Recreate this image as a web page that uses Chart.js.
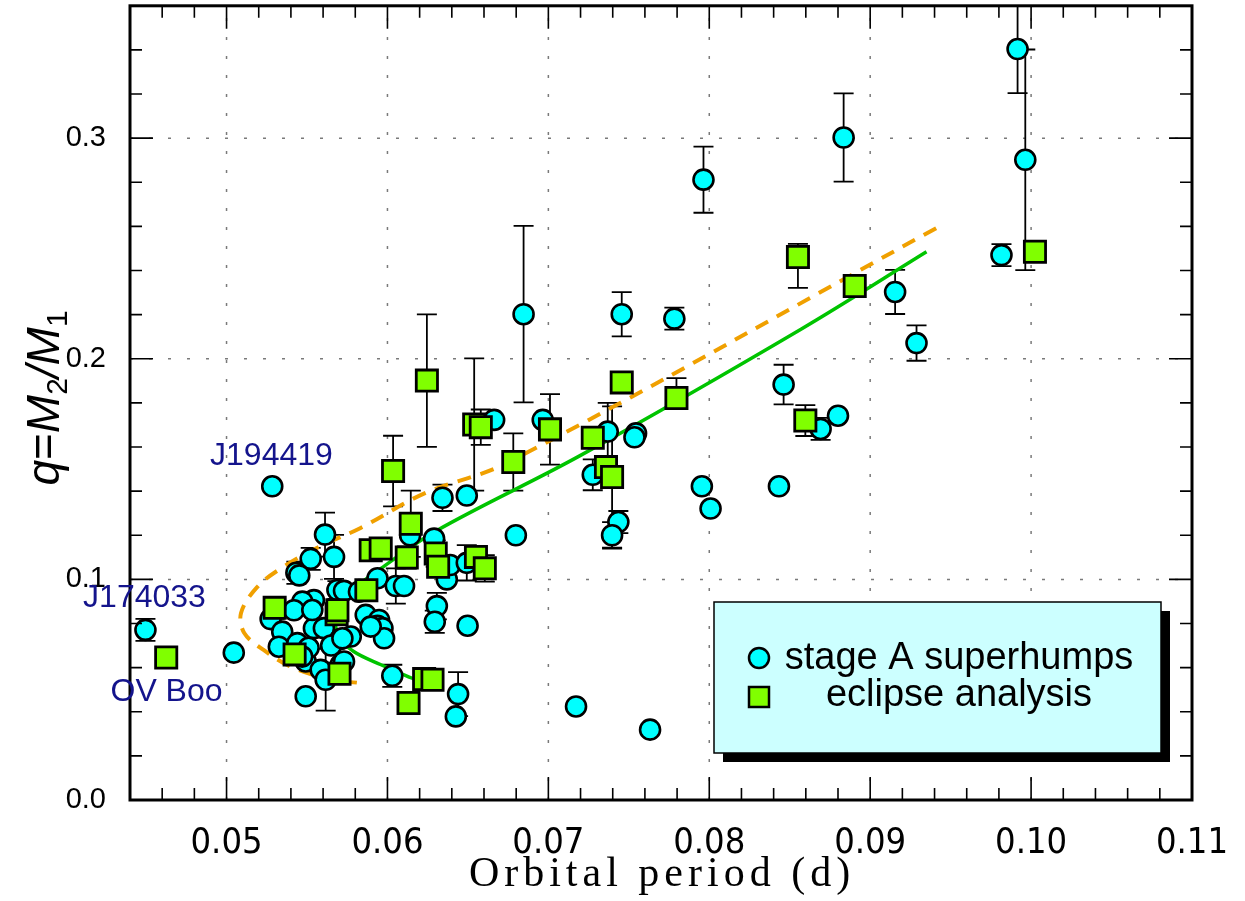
<!DOCTYPE html>
<html>
<head>
<meta charset="utf-8">
<script src="https://cdn.jsdelivr.net/npm/chart.js@4.4.1/dist/chart.umd.min.js"></script>
<style>
  html, body { margin: 0; padding: 0; background: #fff; overflow: hidden; }
  /* el area de la grafica queda 12px mas abajo de lo pedido, se compensa aqui */
  #marco { width: 1245px; height: 913px; position: relative; margin-top: -12px; }
</style>
</head>
<body>
<div id="marco"><canvas id="grafica"></canvas></div>
<script>
/* ==================
    DATOS
================== */

// stage A superhumps: periodo orbital (d), q y error (numero o [abajo, arriba])
const stageAPeriod = [
  0.04496, 0.05284, 0.05045, 0.05612, 0.05668, 0.05523, 0.05434, 0.05452, 0.05543, 0.05471,
  0.05689, 0.05730, 0.05419, 0.05274, 0.05346, 0.05543, 0.05605, 0.05709, 0.05325, 0.05440,
  0.05492, 0.05510, 0.05585, 0.05616, 0.05709, 0.05730, 0.05492, 0.05823, 0.05865, 0.05948,
  0.05938, 0.05969, 0.05979, 0.05896, 0.05938, 0.06052, 0.06103, 0.06030, 0.06141, 0.06290,
  0.06342, 0.06493, 0.06369, 0.06390, 0.06493, 0.06307, 0.06294, 0.06498, 0.06439, 0.06425,
  0.06798, 0.06663, 0.06965, 0.06846, 0.07456, 0.07783, 0.07369, 0.07545, 0.07535, 0.07276,
  0.07435, 0.07396, 0.07954, 0.08008, 0.08433, 0.08462, 0.08692, 0.08800, 0.07964, 0.08835,
  0.09155, 0.09288, 0.09916, 0.09964, 0.09816, 0.07172, 0.07632, 0.05470, 0.05650, 0.05772,
  0.05720, 0.05533
];
const stageAQ = [
  0.0771, 0.1422, 0.0668, 0.1203, 0.1102, 0.1093, 0.1030, 0.1018, 0.0906, 0.0899,
  0.0952, 0.0948, 0.0860, 0.0820, 0.0763, 0.0779, 0.0779, 0.0730, 0.0695, 0.0711,
  0.0628, 0.0690, 0.0590, 0.0545, 0.0613, 0.0628, 0.0470, 0.0944, 0.0839, 0.0816,
  0.0790, 0.0779, 0.0733, 0.0786, 0.1005, 0.0970, 0.0970, 0.0563, 0.1200, 0.1185,
  0.1370, 0.1380, 0.1000, 0.1065, 0.1075, 0.0879, 0.0808, 0.0790, 0.0480, 0.0379,
  0.1200, 0.1723, 0.1723, 0.2202, 0.2202, 0.2182, 0.1670, 0.1662, 0.1644, 0.1474,
  0.1260, 0.1200, 0.1422, 0.1321, 0.1422, 0.1883, 0.1682, 0.1742, 0.2812, 0.3003,
  0.2303, 0.2071, 0.3404, 0.2902, 0.2470, 0.0424, 0.0319, 0.0650, 0.0700, 0.0741,
  0.0733, 0.0861
];
const stageAErr = [
  0.005, 0, 0, 0.010, 0.010, 0.005, 0.005, 0, 0, 0,
  0.004, 0, 0, 0, 0, 0, 0, 0, 0, 0,
  0, 0, 0, 0.014, 0, 0, 0, 0, 0, 0,
  0, 0, 0, 0, 0, 0.008, 0, 0.005, 0, 0,
  0.006, 0, 0, 0, 0.008, 0.006, 0.005, 0, 0.010, 0,
  0, 0, 0, 0.040, 0.010, 0.005, 0.013, 0, 0, 0.007,
  0.005, 0.006, 0, 0, 0, 0.009, 0.005, 0, 0.015, 0.020,
  0.010, 0.008, 0.020, 0.050, 0.005, 0, 0, 0, 0, 0,
  0, 0
];

// eclipse analysis
const eclipsePeriod = [
  0.04625, 0.05299, 0.05423, 0.05684, 0.05689, 0.05702, 0.05869, 0.05896, 0.05958, 0.06035,
  0.06120, 0.06145, 0.06300, 0.06315, 0.06245, 0.06539, 0.06580, 0.06550, 0.06605, 0.06782,
  0.07010, 0.07276, 0.07358, 0.07396, 0.07456, 0.07796, 0.08551, 0.08597, 0.08904, 0.10024,
  0.06228, 0.06280, 0.06131
];
const eclipseQ = [
  0.0646, 0.0871, 0.0660, 0.0842, 0.0860, 0.0572, 0.0951, 0.1132, 0.1140, 0.1491,
  0.1099, 0.1252, 0.1117, 0.1057, 0.1901, 0.1702, 0.1690, 0.1102, 0.1050, 0.1532,
  0.1680, 0.1642, 0.1509, 0.1464, 0.1893, 0.1822, 0.2461, 0.1720, 0.2330, 0.2485,
  0.0548, 0.0545, 0.0440
];
const eclipseErr = [
  0, 0.005, 0, 0, 0, 0, 0, 0, 0, 0.016,
  0.005, 0.015, 0.006, 0, 0.030, 0.030, 0.008, 0, 0.006, 0.013,
  0.016, 0, 0, 0.032, 0, [0.004, 0.009], [0.014, 0.006], 0.007, 0, 0,
  0, 0, 0
];

// curvas teoricas
const trackPeriod = [0.0935, 0.0857, 0.0720, 0.0631, 0.0596, 0.0577, 0.0568, 0.0570, 0.0579, 0.0596, 0.0615, 0.0626];
const trackQ      = [0.2485, 0.2134, 0.1562, 0.1223, 0.1050, 0.0940, 0.0830, 0.0740, 0.0673, 0.0613, 0.0553, 0.0520];
const track2Period = [0.0941, 0.0675, 0.0623, 0.0583, 0.0557, 0.0534, 0.0519, 0.0509, 0.0511, 0.0523, 0.0540, 0.0565, 0.0581];
const track2Q      = [0.2592, 0.1530, 0.1390, 0.1232, 0.1146, 0.1051, 0.0965, 0.0848, 0.0757, 0.0680, 0.0604, 0.0545, 0.0532];

// rotulos de objetos
const starNames = ['J194419', 'J174033', 'OV Boo'];
const starLabelX = [0.05279, 0.04490, 0.04627];
const starLabelY = [0.1517, 0.0875, 0.0447];

// ticks
const xTicks = [0.05, 0.06, 0.07, 0.08, 0.09, 0.10, 0.11];
const yTicks = [0.0, 0.1, 0.2, 0.3];

/* ==================
    PLUGINS
================== */

const toPoints = (xs, ys) => xs.map((x, i) => ({ x: x, y: ys[i] }));

// rejilla punteada, ticks internos y borde
const marcoEjes = {
  id: 'marcoEjes',
  beforeDatasetsDraw(chart) {
    const { ctx, chartArea: a, scales: { x, y } } = chart;
    ctx.save();
    ctx.strokeStyle = '#7a7a7a';
    ctx.lineWidth = 1.5;
    ctx.setLineDash([3, 16]);
    xTicks.forEach(v => {
      const px = x.getPixelForValue(v);
      if (px < a.left + 3 || px > a.right - 3) return;
      ctx.beginPath(); ctx.moveTo(px, a.bottom); ctx.lineTo(px, a.top); ctx.stroke();
    });
    yTicks.forEach(v => {
      const py = y.getPixelForValue(v);
      if (py < a.top + 3 || py > a.bottom - 3) return;
      ctx.beginPath(); ctx.moveTo(a.left, py); ctx.lineTo(a.right, py); ctx.stroke();
    });
    ctx.restore();
  },
  afterDatasetsDraw(chart) {
    const { ctx, chartArea: a, scales: { x, y } } = chart;
    ctx.save();
    ctx.strokeStyle = '#000';
    ctx.lineWidth = 1.6;
    for (let k = 23; k <= 54; k++) {
      const px = x.getPixelForValue(k * 0.002);
      const len = k % 5 === 0 ? 23 : 12;
      ctx.beginPath();
      ctx.moveTo(px, a.bottom); ctx.lineTo(px, a.bottom - len);
      ctx.moveTo(px, a.top); ctx.lineTo(px, a.top + len);
      ctx.stroke();
    }
    for (let k = 1; k <= 17; k++) {
      const py = y.getPixelForValue(k * 0.02);
      const len = k % 5 === 0 ? 23 : 12;
      ctx.beginPath();
      ctx.moveTo(a.left, py); ctx.lineTo(a.left + len, py);
      ctx.moveTo(a.right, py); ctx.lineTo(a.right - len, py);
      ctx.stroke();
    }
    ctx.lineWidth = 3;
    ctx.strokeRect(a.left, a.top, a.right - a.left, a.bottom - a.top);
    ctx.restore();
  }
};

// barras de error
function dibujarErrores(ctx, sx, sy, xs, ys, errs) {
  xs.forEach((xv, i) => {
    const e = errs[i];
    if (!e) return;
    const lo = Array.isArray(e) ? e[0] : e;
    const hi = Array.isArray(e) ? e[1] : e;
    const px = sx.getPixelForValue(xv);
    const top = sy.getPixelForValue(ys[i] + hi);
    const bot = sy.getPixelForValue(ys[i] - lo);
    ctx.beginPath();
    ctx.moveTo(px, top); ctx.lineTo(px, bot);
    ctx.moveTo(px - 10, top); ctx.lineTo(px + 10, top);
    ctx.moveTo(px - 10, bot); ctx.lineTo(px + 10, bot);
    ctx.stroke();
  });
}

const barrasError = {
  id: 'barrasError',
  beforeDatasetsDraw(chart) {
    const { ctx, chartArea: a, scales: { x, y } } = chart;
    ctx.save();
    ctx.beginPath();
    ctx.rect(a.left, a.top, a.right - a.left, a.bottom - a.top);
    ctx.clip();
    ctx.strokeStyle = '#000';
    ctx.lineWidth = 1.8;
    dibujarErrores(ctx, x, y, stageAPeriod, stageAQ, stageAErr);
    dibujarErrores(ctx, x, y, eclipsePeriod, eclipseQ, eclipseErr);
    ctx.restore();
  }
};

// titulos de ejes, nombres de objetos y leyenda
const rotulos = {
  id: 'rotulos',
  afterDraw(chart) {
    const { ctx, chartArea: a, scales: { x, y } } = chart;
    // todo relativo a la esquina inferior izquierda del area
    const ox = a.left - 130, oy = a.bottom - 800;
    ctx.save();

    // titulo eje Y: q=M2/M1
    ctx.translate(ox + 59, oy + 398);
    ctx.rotate(-Math.PI / 2);
    const big = 46, small = 30;
    const partes = [
      { t: 'q', f: 'italic ' + big + 'px "Liberation Sans"', dy: 0 },
      { t: '=', f: big + 'px "Liberation Sans"', dy: 0 },
      { t: 'M', f: 'italic ' + big + 'px "Liberation Sans"', dy: 0 },
      { t: '2', f: small + 'px "Liberation Sans"', dy: 8 },
      { t: '/', f: 'italic ' + big + 'px "Liberation Sans"', dy: 0 },
      { t: 'M', f: 'italic ' + big + 'px "Liberation Sans"', dy: 0 },
      { t: '1', f: small + 'px "Liberation Sans"', dy: 8 }
    ];
    let total = 0;
    partes.forEach(p => { ctx.font = p.f; p.w = ctx.measureText(p.t).width; total += p.w; });
    let cx = -total / 2;
    ctx.fillStyle = '#000';
    ctx.textBaseline = 'alphabetic';
    ctx.textAlign = 'left';
    partes.forEach(p => { ctx.font = p.f; ctx.fillText(p.t, cx, p.dy); cx += p.w; });
    ctx.restore();

    // titulo eje X
    ctx.save();
    ctx.font = '42px "Liberation Serif"';
    ctx.letterSpacing = '5px';
    ctx.fillStyle = '#000';
    ctx.textAlign = 'center';
    ctx.textBaseline = 'alphabetic';
    ctx.fillText('Orbital period (d)', ox + 662, oy + 886);
    ctx.restore();

    // nombres de objetos
    ctx.save();
    ctx.font = '32px "Liberation Sans"';
    ctx.fillStyle = '#14148c';
    ctx.textAlign = 'center';
    starNames.forEach((n, i) => {
      ctx.fillText(n, x.getPixelForValue(starLabelX[i]), y.getPixelForValue(starLabelY[i]));
    });
    ctx.restore();

    // leyenda con sombra
    ctx.save();
    ctx.translate(ox, oy);
    const L = { l: 714, t: 602, w: 447, h: 151 };
    ctx.fillStyle = '#000';
    ctx.fillRect(L.l + 9, L.t + 9, L.w, L.h);
    ctx.fillStyle = '#ccffff';
    ctx.fillRect(L.l, L.t, L.w, L.h);
    ctx.strokeStyle = '#000';
    ctx.lineWidth = 1.5;
    ctx.strokeRect(L.l, L.t, L.w, L.h);
    ctx.lineWidth = 2.5;
    ctx.fillStyle = '#00ffff';
    ctx.beginPath(); ctx.arc(759, 658, 10, 0, Math.PI * 2); ctx.fill(); ctx.stroke();
    ctx.fillStyle = '#80ff00';
    ctx.fillRect(749, 687, 20, 20); ctx.strokeRect(749, 687, 20, 20);
    ctx.fillStyle = '#000';
    ctx.font = '38px "Liberation Sans"';
    ctx.textAlign = 'center';
    ctx.fillText('stage A superhumps', 959, 669);
    ctx.fillText('eclipse analysis', 959, 706);
    ctx.restore();
  }
};

/* ==================
    GRAFICA
================== */

new Chart(document.getElementById('grafica').getContext('2d'), {
  type: 'scatter',
  data: {
    datasets: [
      {
        label: 'eclipse analysis',
        data: toPoints(eclipsePeriod, eclipseQ),
        pointStyle: 'rect',
        pointRadius: 15,
        backgroundColor: '#80ff00',
        borderColor: '#000',
        borderWidth: 2.8,
        order: 1
      },
      {
        label: 'stage A superhumps',
        data: toPoints(stageAPeriod, stageAQ),
        pointStyle: 'circle',
        pointRadius: 10,
        backgroundColor: '#00ffff',
        borderColor: '#000',
        borderWidth: 2.6,
        order: 2
      },
      {
        label: 'track',
        data: toPoints(trackPeriod, trackQ),
        showLine: true,
        pointRadius: 0,
        borderColor: '#00c400',
        borderWidth: 3.5,
        tension: 0.35,
        order: 3
      },
      {
        label: 'track 2',
        data: toPoints(track2Period, track2Q),
        showLine: true,
        pointRadius: 0,
        borderColor: '#f0a000',
        borderWidth: 4,
        borderDash: [14, 10],
        tension: 0.35,
        order: 4
      }
    ]
  },
  options: {
    responsive: true,
    maintainAspectRatio: false,
    animation: false,
    events: [],
    layout: { padding: { top: 4, right: 53, left: 0, bottom: 0 } },
    plugins: {
      legend: { display: false },
      tooltip: { enabled: false }
    },
    scales: {
      x: {
        type: 'linear',
        min: 0.044,
        max: 0.11,
        afterBuildTicks: s => { s.ticks = xTicks.map(v => ({ value: v })); },
        afterFit: s => { s.height = 101; s.paddingLeft = 0; s.paddingRight = 0; },
        grid: { display: false, drawTicks: false },
        border: { display: false },
        ticks: {
          callback: v => v.toFixed(2),
          color: '#000',
          padding: 22,
          maxRotation: 0,
          autoSkip: false,
          font: { family: '"Liberation Sans Narrow", "DejaVu Sans Condensed", "Liberation Sans"', size: 36 }
        }
      },
      y: {
        type: 'linear',
        min: 0,
        max: 0.36,
        afterBuildTicks: s => { s.ticks = yTicks.map(v => ({ value: v })); },
        afterFit: s => { s.width = 130; s.paddingTop = 0; s.paddingBottom = 0; },
        grid: { display: false, drawTicks: false },
        border: { display: false },
        ticks: {
          callback: v => v.toFixed(1),
          color: '#000',
          padding: 24,
          autoSkip: false,
          font: { family: '"Liberation Sans"', size: 29 }
        }
      }
    }
  },
  plugins: [marcoEjes, barrasError, rotulos]
});
</script>
</body>
</html>
